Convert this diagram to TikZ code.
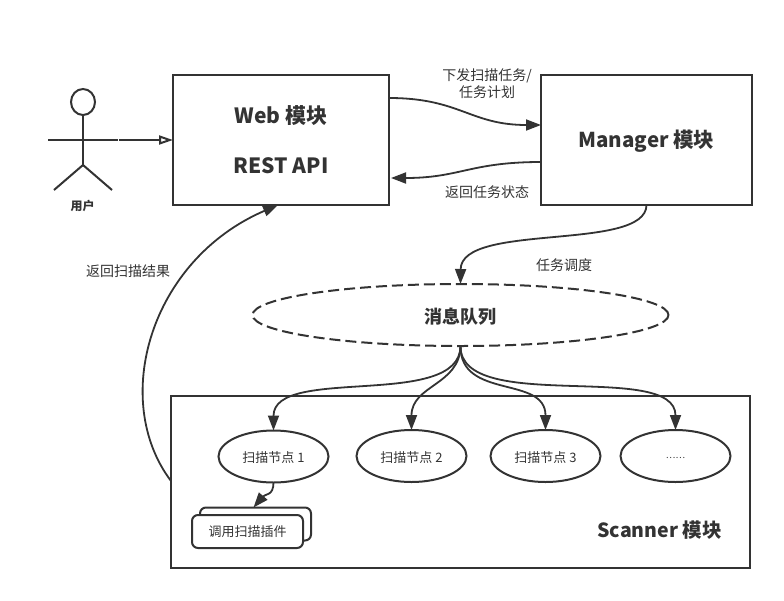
\documentclass[tikz,border=0pt]{standalone}
\usepackage{fontspec}
\setmainfont{Noto Sans CJK SC}
\usetikzlibrary{arrows.meta,shapes.geometric}
\definecolor{ink}{HTML}{333333}
\newcommand{\lowtext}[1]{\raisebox{0pt}[\dimexpr\height+3pt\relax]{#1}}
\tikzset{>={Triangle[length=15pt,width=11pt]}}
\tikzset{
	modbox/.style={draw=ink,line width=2pt,rectangle,inner sep=0pt,outer sep=0pt,text=ink,align=center,font=\bfseries\fontsize{21}{50}\selectfont},
	worker/.style={draw=ink,line width=2pt,ellipse,inner sep=0pt,outer sep=0pt,minimum width=110pt,minimum height=52pt,text=ink,font=\fontsize{13}{16}\selectfont},
	plugbox/.style={draw=ink,line width=2pt,fill=white,rectangle,rounded corners=6pt,inner sep=0pt,outer sep=0pt,minimum width=111pt,minimum height=33pt,text=ink,font=\fontsize{13}{16}\selectfont},
	note/.style={text=ink,inner sep=0pt,align=center,font=\fontsize{14}{17}\selectfont},
	flow/.style={->,draw=ink,line width=1.8pt},
}
\begin{document}
\begin{tikzpicture}[x=1pt,y=-1pt]
	\useasboundingbox (0,0) rectangle (784,600);
	
	% the three modules
	\node[modbox,minimum width=216pt,minimum height=130pt] (web) at (281,140) {Web 模块\\REST API};
	\node[modbox,minimum width=211pt,minimum height=130pt,font=\bfseries\fontsize{20.5}{50}\selectfont] (manager) at (646.5,140) {\lowtext{Manager 模块}};
	\node[modbox,minimum width=579pt,minimum height=172pt] (scanner) at (460.5,482) {};
	\node[text=ink,inner sep=0pt,font=\bfseries\fontsize{19.5}{24}\selectfont] (scannername) at (659.5,530) {Scanner 模块};
	
	\node[draw=ink,line width=2pt,dash pattern=on 11pt off 5pt,ellipse,inner sep=0pt,outer sep=0pt,minimum width=416pt,minimum height=62pt,text=ink,font=\bfseries\fontsize{18}{21}\selectfont] (queue) at (460.5,315) {\lowtext{消息队列}};
	
	\node[worker] (node1) at (273.5,456.5) {\lowtext{扫描节点 1}};
	\node[worker] (node2) at (411.5,456) {\lowtext{扫描节点 2}};
	\node[worker] (node3) at (545.5,456) {\lowtext{扫描节点 3}};
	\node[worker] (node4) at (675.5,456) {\lowtext{\fontsize{9}{11}\selectfont ……}};
	
	\node[plugbox] (plugback) at (255.5,524) {};
	\node[plugbox] (plugfront) at (247.5,531.5) {调用扫描插件};
	
	% the user
	\node[draw=ink,line width=2pt,ellipse,inner sep=0pt,outer sep=0pt,minimum width=24pt,minimum height=26pt] (head) at (83,102) {};
	\coordinate (hip) at (83,165);
	\coordinate (handl) at (48,140);
	\coordinate (handr) at (118,140);
	\coordinate (footl) at (54,190);
	\coordinate (footr) at (112,190);
	\draw[draw=ink,line width=2pt] (head.south) -- (hip);
	\draw[draw=ink,line width=2pt] (handl) -- (handr);
	\draw[draw=ink,line width=2pt] (footl) -- (hip) -- (footr);
	\node[text=ink,inner sep=0pt,font=\bfseries\fontsize{12}{14}\selectfont] (user) at (82.5,206) {用户};
	
	\coordinate (armend) at (119,140);
	\draw[draw=ink,line width=2pt,-{Triangle[open,length=14pt,width=9pt]}] (armend) -- (web.west);
	
	% between the modules
	\draw[flow] ([yshift=42pt]web.east) .. controls (460,98) and (470,125) .. ([yshift=15pt]manager.west);
	\draw[flow] ([yshift=-22pt]manager.west) .. controls (470,162) and (460,178) .. ([xshift=2pt,yshift=-38pt]web.east);
	\draw[flow] (manager.south) .. controls (646,252) and (461,222) .. (queue.north);
	\draw[flow] (scanner.west |- 0,481) .. controls (110,400) and (150,260) .. ([xshift=-3pt]web.south);
	
	% from the queue to the workers
	\draw[flow] (queue.south) .. controls (460,410) and (273.5,365) .. (node1.north);
	\draw[flow] (queue.south) .. controls (460,385) and (411.5,385) .. (node2.north);
	\draw[flow] (queue.south) .. controls (460,400) and (545.5,375) .. (node3.north);
	\draw[flow] (queue.south) .. controls (460,415) and (675.5,360) .. (node4.north);
	\draw[flow] (node1.south) .. controls (273.5,496) and (265,494) .. ([xshift=-2pt]plugback.north);
	
	\node[note] (tasklabel) at (487,84) {下发扫描任务/\\任务计划};
	\node[note] (statelabel) at (487,192) {返回任务状态};
	\node[note] (schedlabel) at (564,265) {任务调度};
	\node[note] (resultlabel) at (128,271) {返回扫描结果};
\end{tikzpicture}
\end{document}
